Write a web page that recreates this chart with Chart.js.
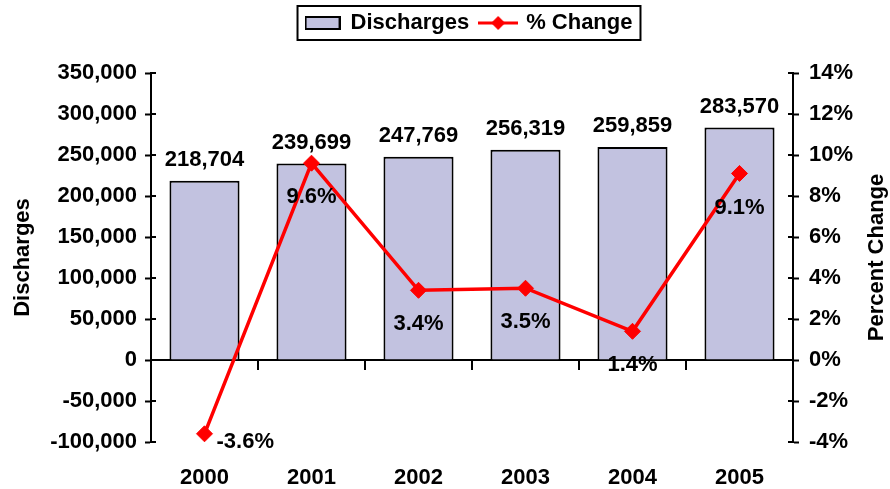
<!DOCTYPE html>
<html>
<head>
<meta charset="utf-8">
<script src="https://cdn.jsdelivr.net/npm/chart.js@4.4.1/dist/chart.umd.min.js"></script>
<style>
  html,body{margin:0;padding:0;background:#fff;}
  #wrap{width:890px;height:489px;}
</style>
</head>
<body>
<div id="wrap"><canvas id="chart"></canvas></div>
<script>
const years=['2000','2001','2002','2003','2004','2005'];
const discharges=[218704,239699,247769,256319,259859,283570];
const pctChange=[-3.6,9.6,3.4,3.5,1.4,9.1];
const dischargeTicks=[-100000,350000,50000];   // min, max, step
const pctTicks=[-4,14,2];

const FONT='"Liberation Sans", Arial, sans-serif';
const FS=22;
const BAR_FILL='#C2C2E0', RED='#FF0000';
Chart.defaults.color='#000';
Chart.defaults.font.family=FONT;
Chart.defaults.font.weight='bold';
Chart.defaults.font.size=FS;

// legend swatches
function swatch(w,h,fn){ const c=document.createElement('canvas'); c.width=w; c.height=h; fn(c.getContext('2d')); return c; }
const barSwatch=swatch(36,14,g=>{ g.fillStyle=BAR_FILL; g.fillRect(1,1,34,12); g.strokeStyle='#000'; g.lineWidth=2; g.strokeRect(1,1,34,12); });
const lineSwatch=swatch(40,16,g=>{
  g.strokeStyle=RED; g.lineWidth=3; g.beginPath(); g.moveTo(0,8); g.lineTo(40,8); g.stroke();
  g.fillStyle=RED; g.beginPath(); g.moveTo(20,1); g.lineTo(27,8); g.lineTo(20,15); g.lineTo(13,8); g.closePath(); g.fill();
});

const extras={
  id:'extras',
  afterLayout(chart){
    // legend sits at the very top, a bit right of centre in the original
    const lg=chart.legend;
    lg.left+=24; lg.right+=24;
    lg.bottom-=lg.top; lg.top=0;
  },
  beforeDatasetsDraw(chart){
    const {ctx,chartArea:a,scales:{x,y}}=chart;
    const y0=y.getPixelForValue(0);
    const half=(x.getPixelForValue(1)-x.getPixelForValue(0))/2;
    ctx.save();
    ctx.strokeStyle='#000'; ctx.lineWidth=2;
    ctx.beginPath(); ctx.moveTo(a.left,y0); ctx.lineTo(a.right,y0);
    for(let i=1;i<years.length;i++){ const px=Math.round(x.getPixelForValue(i)-half); ctx.moveTo(px,y0); ctx.lineTo(px,y0+10); }
    // inner half of the axis tick marks
    y.ticks.forEach((t,i)=>{ const py=y.getPixelForTick(i); ctx.moveTo(a.left,py); ctx.lineTo(a.left+5,py); ctx.moveTo(a.right,py); ctx.lineTo(a.right-5,py); });
    ctx.stroke();
    ctx.restore();
  },
  afterDatasetsDraw(chart){
    const ctx=chart.ctx;
    ctx.save();
    ctx.font='bold '+FS+'px '+FONT; ctx.fillStyle='#000'; ctx.textBaseline='middle';
    ctx.textAlign='center';
    chart.getDatasetMeta(0).data.forEach((b,i)=>ctx.fillText(discharges[i].toLocaleString('en-US'),b.x,b.y-21));
    chart.getDatasetMeta(1).data.forEach((p,i)=>{
      const txt=pctChange[i].toFixed(1)+'%';
      if(pctChange[i]<0){ ctx.textAlign='left'; ctx.fillText(txt,p.x+12,p.y+8); }
      else { ctx.textAlign='center'; ctx.fillText(txt,p.x,p.y+34); }
    });
    ctx.restore();
  },
  afterDraw(chart){
    const ctx=chart.ctx, a=chart.chartArea;
    // right axis title reads bottom-to-top like the left one
    ctx.save();
    ctx.font='bold '+FS+'px '+FONT; ctx.fillStyle='#000'; ctx.textAlign='center'; ctx.textBaseline='middle';
    ctx.translate(877,(a.top+a.bottom)/2); ctx.rotate(-Math.PI/2); ctx.fillText('Percent Change',0,0);
    ctx.restore();
    const hb=chart.legend.legendHitBoxes;
    if(!hb||!hb.length) return;
    const l=Math.min(...hb.map(h=>h.left))-8, r=Math.max(...hb.map(h=>h.left+h.width))+8;
    const t=Math.min(...hb.map(h=>h.top))-6, b=Math.max(...hb.map(h=>h.top+h.height))+6;
    ctx.save(); ctx.strokeStyle='#000'; ctx.lineWidth=2; ctx.strokeRect(l,t,r-l,b-t); ctx.restore();
  }
};

new Chart(document.getElementById('chart'),{
  data:{
    labels:years,
    datasets:[
      {type:'bar',label:'Discharges',data:discharges,yAxisID:'y',order:1,
       backgroundColor:BAR_FILL,borderColor:'#000',borderWidth:2,barPercentage:0.655,categoryPercentage:1},
      {type:'line',label:'% Change',data:pctChange,yAxisID:'y1',order:0,
       borderColor:RED,borderWidth:3.5,tension:0,pointStyle:'rectRot',pointRadius:8,
       pointBackgroundColor:RED,pointBorderColor:RED,pointBorderWidth:1}
    ]
  },
  options:{
    responsive:true,maintainAspectRatio:false,animation:false,
    layout:{padding:0},
    plugins:{
      tooltip:{enabled:false},
      legend:{position:'top',
        labels:{usePointStyle:true,pointStyleWidth:34,padding:12,font:{size:FS,weight:'bold'},
          sort:(a,b)=>a.datasetIndex-b.datasetIndex,
          generateLabels:chart=>Chart.defaults.plugins.legend.labels.generateLabels(chart)
            .map(it=>Object.assign(it,{pointStyle:it.datasetIndex===0?barSwatch:lineSwatch,rotation:0}))}}
    },
    scales:{
      x:{grid:{display:false,drawTicks:false},border:{display:false},
         ticks:{padding:23,font:{size:FS,weight:'bold'}},
         afterFit:s=>{s.height=47;}},
      y:{position:'left',min:dischargeTicks[0],max:dischargeTicks[1],
         ticks:{stepSize:dischargeTicks[2],padding:8,callback:v=>v.toLocaleString('en-US')},
         grid:{drawOnChartArea:false,tickLength:6,tickColor:'#000',tickWidth:2},
         border:{color:'#000',width:2},
         title:{display:true,text:'Discharges',padding:{top:10,bottom:0},font:{size:FS,weight:'bold'}},
         afterFit:s=>{s.width=151; s.paddingTop=73;}},
      y1:{position:'right',min:pctTicks[0],max:pctTicks[1],
         ticks:{stepSize:pctTicks[2],padding:10,callback:v=>v+'%'},
         grid:{drawOnChartArea:false,tickLength:6,tickColor:'#000',tickWidth:2},
         border:{color:'#000',width:2},
         title:{display:false},
         afterFit:s=>{s.width=97; s.paddingTop=73;}}
    }
  },
  plugins:[extras]
});
</script>
</body>
</html>
